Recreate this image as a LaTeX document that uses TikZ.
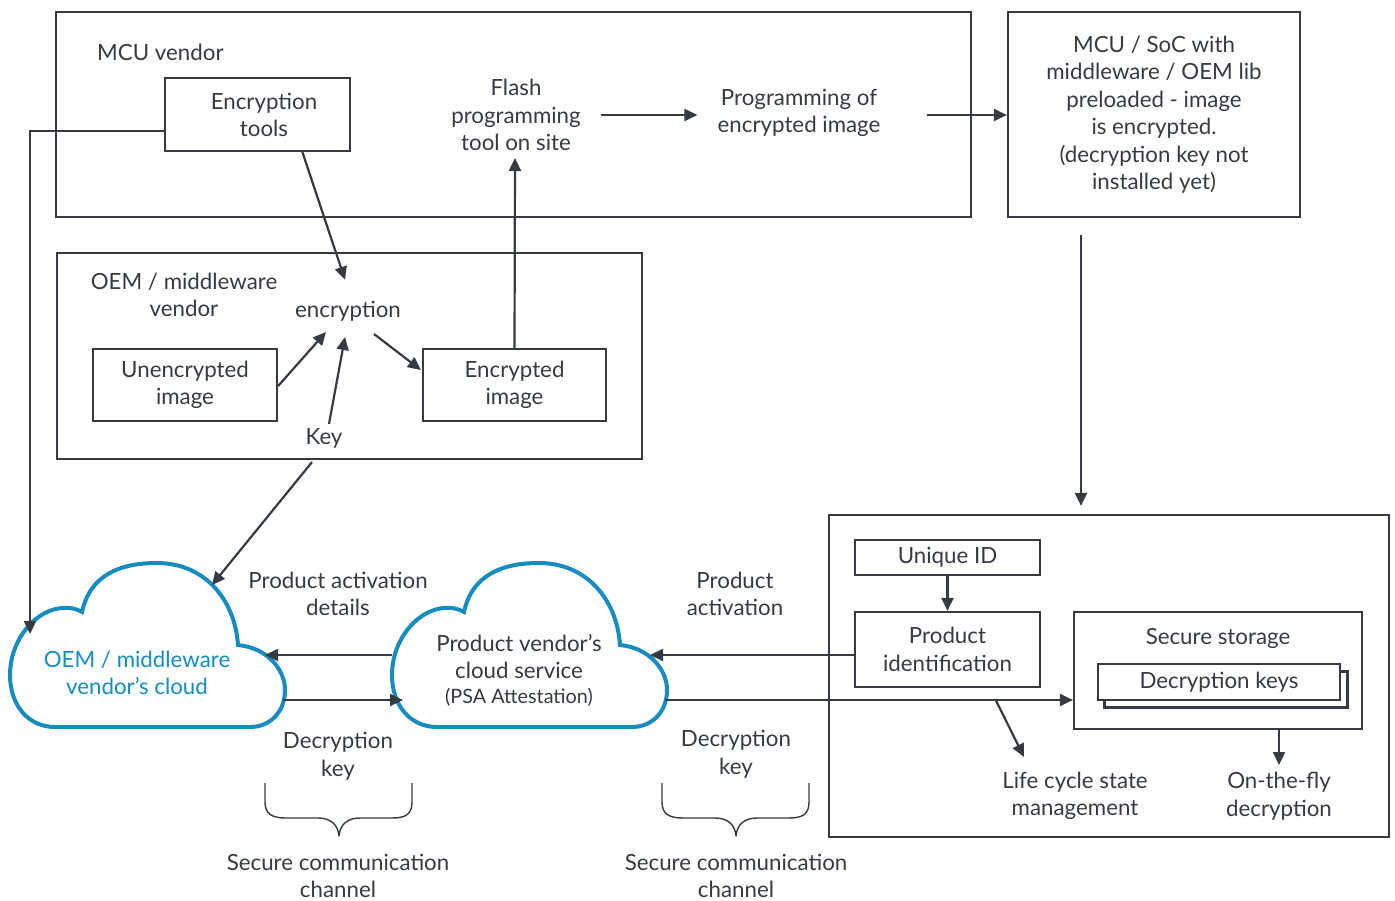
\documentclass[tikz,border=0pt]{standalone}
\usepackage{fontspec}
\setmainfont{Lato}
\usetikzlibrary{arrows.meta}
\definecolor{ink}{HTML}{353B41}
\definecolor{cloudblue}{HTML}{168DBE}
\newcommand\cloudoutline{%
  (82,612) .. controls (90,575) and (120,563) .. (157,563)
  .. controls (205,563) and (235,600) .. (238,645)
  .. controls (268,648) and (285,670) .. (285,690)
  .. controls (285,712) and (270,727) .. (250,727)
  -- (55,727)
  .. controls (28,727) and (10,705) .. (10,675)
  .. controls (10,640) and (35,610) .. (62,608)
  .. controls (70,607) and (77,609) .. (82,612) -- cycle}
\begin{document}
\begin{tikzpicture}[x=1pt,y=-1pt,
  txt/.style={text=ink,align=center,inner sep=1pt,font=\fontsize{22.3}{27.5}\selectfont},
  box/.style={txt,draw=ink,line width=2.2pt,inner sep=0pt},
  arr/.style={draw=ink,line width=2.2pt,-{Triangle[length=13pt,width=12pt]}},
  link/.style={draw=ink,line width=2.2pt},
  brace/.style={draw=ink,line width=1.4pt,line join=round},
  cloudline/.style={draw=cloudblue,line width=4pt,fill=white}]
\useasboundingbox (0,0) rectangle (1395,901);

% ---- MCU vendor ----
\node[box,minimum width=915pt,minimum height=205pt] (mcu) at (513.5,114.5) {};
\node[txt,anchor=west] (mcuLbl) at (96,52) {MCU vendor};
\node[box,minimum width=185pt,minimum height=73pt] (enct) at (257.5,114.5) {};
\node[txt] (enctTxt) at (264,115) {Encryption\\tools};
\node[txt] (flash) at (516,115) {Flash\\programming\\tool on site};
\node[txt] (prog) at (799,113) {Programming of\\encrypted image};
\node[box,minimum width=292pt,minimum height=205pt] (soc) at (1154,114.5)
  {MCU / SoC with\\middleware / OEM lib\\preloaded - image\\is encrypted.\\(decryption key not\\installed yet)};

% ---- OEM / middleware vendor ----
\node[box,minimum width=585pt,minimum height=206pt] (oem) at (349.5,356) {};
\node[txt] (oemLbl) at (184,295) {OEM / middleware\\vendor};
\node[txt] (encr) at (348,311) {encryption};
\node[box,minimum width=184pt,minimum height=72pt] (unenc) at (185,385) {Unencrypted\\image};
\node[box,minimum width=183pt,minimum height=72pt] (enc) at (514.5,385) {Encrypted\\image};
\node[txt] (key) at (324,438) {Key};

% ---- device ----
\node[box,minimum width=560pt,minimum height=322pt] (dev) at (1109,676) {};
\node[box,minimum width=185pt,minimum height=35pt] (uid) at (947.5,557.5) {Unique ID};
\node[box,minimum width=185pt,minimum height=75pt] (pid) at (947.5,649.5) {Product\\identification};
\node[box,minimum width=288pt,minimum height=117pt] (sst) at (1218,670.5) {};
\node[txt] (sstLbl) at (1218,638) {Secure storage};
\node[box,fill=white,minimum width=243pt,minimum height=36pt] (dkback) at (1226,689.5) {};
\node[box,fill=white,minimum width=242pt,minimum height=36pt] (dkeys) at (1219,682) {Decryption keys};
\node[txt] (life) at (1075,796) {Life cycle state\\management};
\node[txt] (otf) at (1279,796) {On-the-fly\\decryption};

% ---- clouds ----
\path[cloudline] \cloudoutline;
\begin{scope}[shift={(382,0)}]
  \path[cloudline] \cloudoutline;
\end{scope}
\node[txt,text=cloudblue] (oemcloud) at (137,673) {OEM / middleware\\vendor’s cloud};
\node[txt] (pvcloud) at (519,670) {Product vendor’s\\cloud service\\[-3pt]{\fontsize{19.8}{23}\selectfont(PSA Attestation)}};

% ---- free labels ----
\node[txt] (pad) at (338,594) {Product activation\\details};
\node[txt] (dk1) at (338,756) {Decryption\\key};
\node[txt] (scc1) at (338,876) {Secure communication\\channel};
\node[txt] (pa2) at (735,594) {Product\\activation};
\node[txt] (dk2) at (736,754) {Decryption\\key};
\node[txt] (scc2) at (736,876) {Secure communication\\channel};

% ---- cloud anchor points ----
\coordinate (c1top) at (30,634);
\coordinate (c1key) at (212,585);
\coordinate (c1in) at (265,655);
\coordinate (c1out) at (283,700);
\coordinate (c2in) at (403,700);
\coordinate (c2outL) at (392,655);
\coordinate (c2inR) at (650,655);
\coordinate (c2outR) at (665,700);

% ---- connectors ----
\draw[arr] ([shift={(44.5,36.5)}]enct.center) -- ([shift={(-3,-20)}]encr.north);
\draw[arr] ([shift={(0,1)}]unenc.east) -- ([shift={(-22,21)}]encr.center);
\draw[arr] ([shift={(5,-3)}]key.north) -- ([shift={(-3,26)}]encr.center);
\draw[arr] ([shift={(26,23)}]encr.center) -- ([shift={(-1,-15)}]enc.west);
\draw[arr] (enc.north) -- ([shift={(-1,6)}]flash.south);
\draw[arr] ([shift={(19,0)}]flash.east) -- ([shift={(-19,2)}]prog.west);
\draw[arr] ([shift={(45,2)}]prog.east) -- ([shift={(0,0.5)}]soc.west);
\draw[arr] ([shift={(-73,17)}]soc.south) -- ([shift={(-28,-8)}]dev.north);
\draw[link] ([shift={(0,16.5)}]enct.west) -| (30,200);
\draw[arr] (30,199) -- (c1top);
\draw[arr] ([shift={(-37.5,2)}]oem.south) -- (c1key);
\draw[arr] (c2outL) -- (c1in);
\draw[arr] (c1out) -- (c2in);
\draw[arr] ([shift={(0,5.5)}]pid.west) -- (c2inR);
\draw[arr] (c2outR) -- ([shift={(0,29.5)}]sst.west);
\draw[arr] (uid.south) -- (pid.north);
\draw[arr] ([shift={(48.5,12.5)}]pid.south) -- ([shift={(-51,-39)}]life.center);
\draw[arr] ([shift={(61,0)}]sst.south) -- ([shift={(0,-31)}]otf.center);

% ---- braces ----
\draw[brace] (265,783) -- (265,802) .. controls (265,814) and (272,818) .. (286,818) -- (318,818)
  .. controls (330,818) and (338,824) .. (339,836)
  .. controls (340,824) and (348,818) .. (360,818) -- (392,818)
  .. controls (406,818) and (412,814) .. (412,802) -- (412,783);
\draw[brace] (662,783) -- (662,802) .. controls (662,814) and (669,818) .. (683,818) -- (715,818)
  .. controls (727,818) and (735,824) .. (736,836)
  .. controls (737,824) and (745,818) .. (757,818) -- (789,818)
  .. controls (803,818) and (809,814) .. (809,802) -- (809,783);
\end{tikzpicture}
\end{document}
